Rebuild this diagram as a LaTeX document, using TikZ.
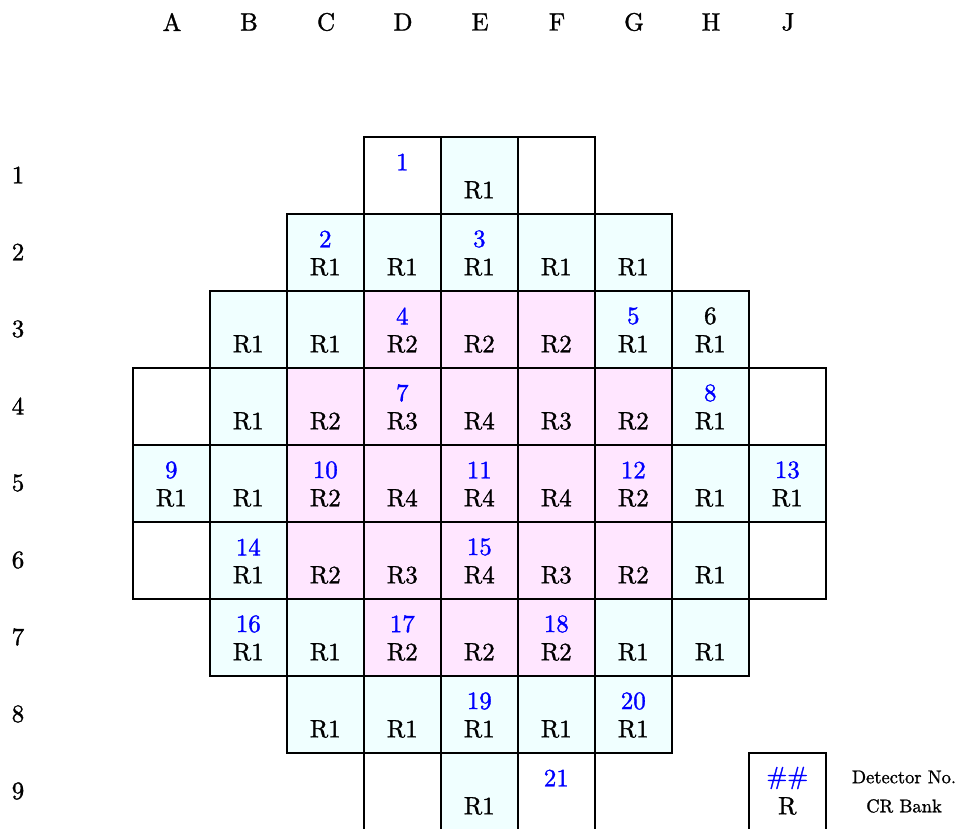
\documentclass[tikz,border=0pt]{standalone}
\font\cellfont="[lmroman10-regular.otf]:embolden=1.3" at 25pt
\font\legfont="[lmroman10-regular.otf]:embolden=1.3" at 18.5pt
\definecolor{cyanfill}{RGB}{240,255,255}
\definecolor{pinkfill}{RGB}{255,230,255}
\definecolor{numblue}{RGB}{0,0,255}
\tikzset{
  cellbox/.style={draw=black,line width=1.6pt,minimum width=77pt,minimum height=77pt,inner sep=0pt,anchor=north west},
  cy/.style={cellbox,fill=cyanfill},
  pk/.style={cellbox,fill=pinkfill},
  wh/.style={cellbox,fill=white},
  lbl/.style={font=\cellfont,inner sep=0pt},
  num/.style={lbl,text=numblue},
  axis/.style={font=\cellfont,inner sep=0pt},
  legtext/.style={font=\legfont,inner sep=0pt}
}
\newcommand{\cellat}[6]{% name, style, col index, row index, number, bank
  \node[#2] (#1) at ({132+77*#3},{136+77*#4}) {};
  \node[num] (#1n) at ([yshift=-26pt]#1.north) {#5};
  \node[lbl] (#1r) at ([yshift=-54pt]#1.north) {#6};
}
\begin{document}
\begin{tikzpicture}[x=1pt,y=-1pt]
\useasboundingbox (0,0) rectangle (959,829);
% column letters
\foreach \c [count=\i from 0] in {A,B,C,D,E,F,G,H,J}
  \node[axis] (col\c) at ({172+77*\i},22) {\c};
\foreach \r [count=\i from 0] in {1,...,9}
  \node[axis] (row\r) at (18,{175+77*\i}) {\r};
% row 1
\cellat{D1}{wh}{3}{0}{1}{}
\cellat{E1}{cy}{4}{0}{}{R1}
\cellat{F1}{wh}{5}{0}{}{}
% row 2
\cellat{C2}{cy}{2}{1}{2}{R1}
\cellat{D2}{cy}{3}{1}{}{R1}
\cellat{E2}{cy}{4}{1}{3}{R1}
\cellat{F2}{cy}{5}{1}{}{R1}
\cellat{G2}{cy}{6}{1}{}{R1}
% row 3
\cellat{B3}{cy}{1}{2}{}{R1}
\cellat{C3}{cy}{2}{2}{}{R1}
\cellat{D3}{pk}{3}{2}{4}{R2}
\cellat{E3}{pk}{4}{2}{}{R2}
\cellat{F3}{pk}{5}{2}{}{R2}
\cellat{G3}{cy}{6}{2}{5}{R1}
\cellat{H3}{cy}{7}{2}{\textcolor{black}{6}}{R1}
% row 4
\cellat{A4}{wh}{0}{3}{}{}
\cellat{B4}{cy}{1}{3}{}{R1}
\cellat{C4}{pk}{2}{3}{}{R2}
\cellat{D4}{pk}{3}{3}{7}{R3}
\cellat{E4}{pk}{4}{3}{}{R4}
\cellat{F4}{pk}{5}{3}{}{R3}
\cellat{G4}{pk}{6}{3}{}{R2}
\cellat{H4}{cy}{7}{3}{8}{R1}
\cellat{J4}{wh}{8}{3}{}{}
% row 5
\cellat{A5}{cy}{0}{4}{9}{R1}
\cellat{B5}{cy}{1}{4}{}{R1}
\cellat{C5}{pk}{2}{4}{10}{R2}
\cellat{D5}{pk}{3}{4}{}{R4}
\cellat{E5}{pk}{4}{4}{11}{R4}
\cellat{F5}{pk}{5}{4}{}{R4}
\cellat{G5}{pk}{6}{4}{12}{R2}
\cellat{H5}{cy}{7}{4}{}{R1}
\cellat{J5}{cy}{8}{4}{13}{R1}
% row 6
\cellat{A6}{wh}{0}{5}{}{}
\cellat{B6}{cy}{1}{5}{14}{R1}
\cellat{C6}{pk}{2}{5}{}{R2}
\cellat{D6}{pk}{3}{5}{}{R3}
\cellat{E6}{pk}{4}{5}{15}{R4}
\cellat{F6}{pk}{5}{5}{}{R3}
\cellat{G6}{pk}{6}{5}{}{R2}
\cellat{H6}{cy}{7}{5}{}{R1}
\cellat{J6}{wh}{8}{5}{}{}
% row 7
\cellat{B7}{cy}{1}{6}{16}{R1}
\cellat{C7}{cy}{2}{6}{}{R1}
\cellat{D7}{pk}{3}{6}{17}{R2}
\cellat{E7}{pk}{4}{6}{}{R2}
\cellat{F7}{pk}{5}{6}{18}{R2}
\cellat{G7}{cy}{6}{6}{}{R1}
\cellat{H7}{cy}{7}{6}{}{R1}
% row 8
\cellat{C8}{cy}{2}{7}{}{R1}
\cellat{D8}{cy}{3}{7}{}{R1}
\cellat{E8}{cy}{4}{7}{19}{R1}
\cellat{F8}{cy}{5}{7}{}{R1}
\cellat{G8}{cy}{6}{7}{20}{R1}
% row 9
\cellat{D9}{wh}{3}{8}{}{}
\cellat{E9}{cy}{4}{8}{}{R1}
\cellat{F9}{wh}{5}{8}{21}{}
% legend
\cellat{leg}{wh}{8}{8}{\#\#}{R}
\node[legtext] (legdet) at (904,777) {Detector No.};
\node[legtext] (legcr) at (904,806) {CR Bank};
\end{tikzpicture}
\end{document}
